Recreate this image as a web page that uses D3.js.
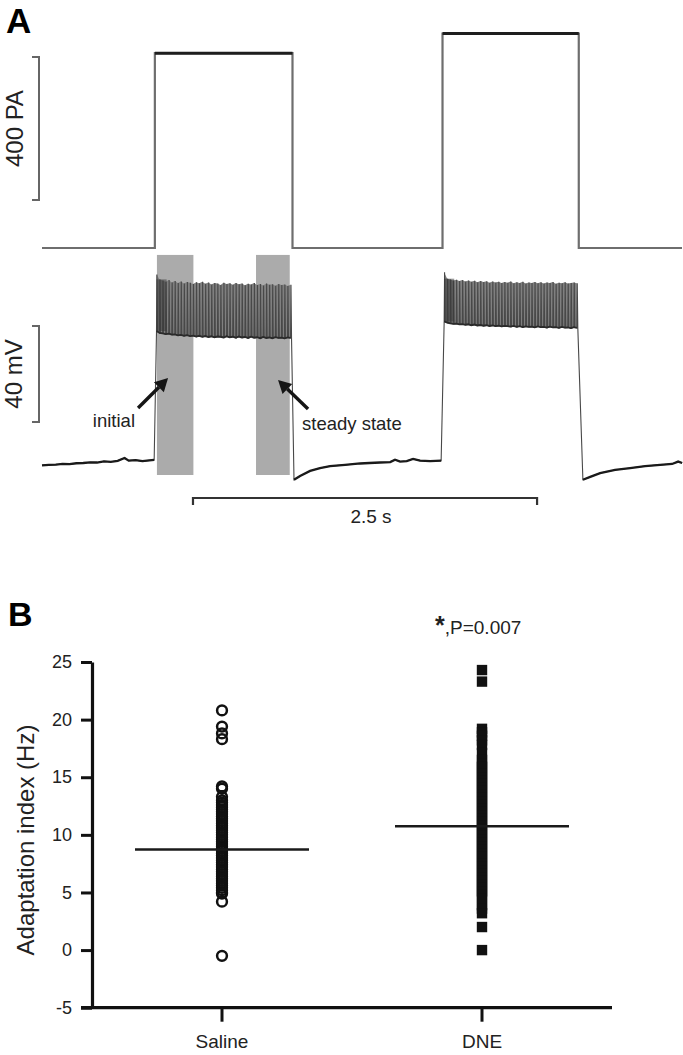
<!DOCTYPE html>
<html><head><meta charset="utf-8">
<script src="https://cdn.jsdelivr.net/npm/d3@7"></script>
<style>
html,body{margin:0;padding:0;background:#fff;}
svg{display:block;font-family:"Liberation Sans",Arial,Helvetica,sans-serif;}
</style>
</head><body>
<script>
// ---------- Panel A data ----------
const stepOn = [0.82, 2.91];          // s
const stepOff = [1.82, 3.90];         // s
const stepAmp = [545, 600];           // pA
const recordEnd = 4.65;               // s
const restBefore1 = [[0,-66.0],[0.05,-65.8],[0.1,-65.7],[0.15,-65.4],[0.2,-65.5],[0.25,-65.1],[0.3,-65.0],[0.35,-64.7],[0.4,-64.8],[0.45,-64.3],[0.5,-64.5],[0.55,-64.1],[0.6,-62.9],[0.63,-64.0],[0.68,-63.8],[0.73,-64.2],[0.78,-63.9],[0.815,-63.7]];
const recovery1 = [[1.831,-72.0],[1.875,-70.4],[1.948,-68.3],[2.020,-67.1],[2.093,-66.3],[2.202,-65.8],[2.311,-65.2],[2.380,-65.0],[2.456,-64.8],[2.530,-64.6],[2.565,-63.6],[2.602,-64.4],[2.650,-64.2],[2.696,-63.3],[2.747,-64.0],[2.820,-64.2],[2.900,-64.0]];
const recovery2 = [[3.930,-72.0],[3.983,-70.8],[4.055,-69.2],[4.164,-67.9],[4.273,-67.1],[4.382,-66.3],[4.491,-65.8],[4.578,-65.4],[4.622,-64.4],[4.651,-65.0]];
const burst1Peak = [13.5,11.5,11.0,10.5,11.2,10.2,10.8,10.0,10.6,9.8,10.4,10.1,9.6,10.3,9.9,10.5,9.7,10.2,9.4,10.0,9.8,9.2,10.1,9.6,9.9,9.3,10.0,9.5,9.8,9.1,9.7,9.4,10.0,9.2,9.6,9.0,9.8,9.3,9.5,8.9,9.6,9.2,9.4,8.8,9.3];
const burst1Trough = [-10.0,-10.8,-11.0,-11.3,-11.1,-11.5,-11.4,-11.8,-11.6,-12.0,-11.7,-12.1,-11.9,-12.3,-12.0,-12.4,-12.1,-12.5,-12.2,-12.6,-12.3,-12.4,-12.7,-12.2,-12.6,-12.4,-12.8,-12.3,-12.7,-12.5,-12.9,-12.4,-12.8,-12.6,-13.0,-12.5,-12.9,-12.7,-13.0,-12.6,-12.9,-12.8,-13.1,-12.7,-12.9];
const burst2Peak = [14.5,11.8,11.5,11.0,11.4,10.8,11.2,10.6,11.0,10.5,10.9,10.3,10.8,10.4,10.7,10.1,10.6,10.2,10.5,10.0,10.4,10.1,10.6,9.9,10.3,10.0,10.5,9.8,10.2,10.0,10.4,9.9,10.3,9.8,10.2,10.0,10.4,9.7,10.1,9.9,10.3,9.8,10.0,10.2,9.9];
const burst2Trough = [-6.0,-6.5,-6.8,-7.0,-6.9,-7.2,-7.1,-7.4,-7.2,-7.6,-7.3,-7.7,-7.5,-7.8,-7.6,-7.9,-7.7,-8.0,-7.8,-8.1,-7.9,-8.0,-8.2,-7.9,-8.3,-8.0,-8.4,-8.1,-8.3,-8.2,-8.5,-8.1,-8.4,-8.3,-8.6,-8.2,-8.5,-8.4,-8.7,-8.3,-8.6,-8.5,-8.8,-8.4,-8.7];
const windowInitial = [0.835, 1.10];  // s
const windowSteady = [1.555, 1.80];   // s
const windowRangeV = [-70, 21.7];     // mV
const barCurrent = [134, 534];        // pA (400 pA)
const barVoltage = [-47.9, -7.9];     // mV (40 mV)
const barTime = [1.097, 3.597];       // s (2.5 s)

// ---------- Panel B data ----------
const groups = ["Saline", "DNE"];
const salineValues = [20.8,19.4,18.8,18.3,14.2,14.0,13.3,13.0,12.8,12.6,12.4,12.2,12.0,11.8,11.6,11.4,11.2,11.0,10.8,10.6,10.4,10.2,10.0,9.8,9.6,9.4,9.2,9.0,8.8,8.6,8.4,8.2,8.0,7.8,7.6,7.4,7.2,7.0,6.8,6.6,6.4,6.2,6.0,5.8,5.6,5.4,5.2,5.0,4.9,4.2,-0.5];
const dneValues = [24.3,23.3,19.2,18.9,18.6,18.2,17.8,17.1,16.5,16.2,15.9,15.6,15.3,15.0,14.7,14.4,14.1,13.8,13.5,13.2,12.9,12.6,12.3,12.0,11.7,11.4,11.1,10.8,10.5,10.2,9.9,9.6,9.3,9.0,8.7,8.4,8.1,7.8,7.5,7.2,6.9,6.6,6.3,6.0,5.7,5.4,5.1,4.8,4.5,3.9,3.6,3.2,2.0,0.0];
const groupMeans = [8.73, 10.75];
const yTicks = [-5, 0, 5, 10, 15, 20, 25];

// ---------- Drawing ----------
const W = 683, H = 1055;
const svg = d3.select("body").append("svg").attr("width", W).attr("height", H);

const xT = d3.scaleLinear().domain([0, recordEnd]).range([42, 682]);
const yI = d3.scaleLinear().domain([0, 400]).range([248, 105]);
const yV = d3.scaleLinear().domain([-65, -25]).range([463, 367]);
const line = d3.line().x(d => xT(d[0]));

svg.append("text").attr("x", 6).attr("y", 33).attr("font-size", 35).attr("font-weight", "bold").text("A");

// current trace
const cur = [[0,0]];
stepOn.forEach((on, i) => {
  cur.push([on, 0], [on, stepAmp[i]], [stepOff[i], stepAmp[i]], [stepOff[i], 0]);
});
cur.push([recordEnd, 0]);
svg.append("path").attr("d", line.y(d => yI(d[1]))(cur))
  .attr("fill", "none").attr("stroke", "#6e6e6e").attr("stroke-width", 2.2);
stepOn.forEach((on, i) => {
  svg.append("path").attr("d", line.y(d => yI(d[1]))([[on, stepAmp[i]], [stepOff[i], stepAmp[i]]]))
    .attr("fill", "none").attr("stroke", "#1e1e1e").attr("stroke-width", 3);
});

// scale bars
function vBar(x, y0, y1) {
  svg.append("path").attr("d", `M${x-7},${y0}H${x}V${y1}H${x-7}`)
    .attr("fill", "none").attr("stroke", "#666").attr("stroke-width", 2);
}
vBar(39, yI(barCurrent[0]), yI(barCurrent[1]));
svg.append("text").attr("transform", `translate(23,${(yI(barCurrent[0])+yI(barCurrent[1]))/2}) rotate(-90)`)
  .attr("text-anchor", "middle").attr("font-size", 24).attr("fill", "#222").text("400 PA");
vBar(39, yV(barVoltage[0]), yV(barVoltage[1]));
svg.append("text").attr("transform", `translate(22,${(yV(barVoltage[0])+yV(barVoltage[1]))/2}) rotate(-90)`)
  .attr("text-anchor", "middle").attr("font-size", 24).attr("fill", "#222").text("40 mV");

// analysis windows
[windowInitial, windowSteady].forEach(w => {
  svg.append("rect").attr("x", xT(w[0])).attr("width", xT(w[1]) - xT(w[0]))
    .attr("y", yV(windowRangeV[1])).attr("height", yV(windowRangeV[0]) - yV(windowRangeV[1]))
    .attr("fill", "#ababab");
});

// voltage trace
function burstSpikes(on, off, peaks, troughs) {
  const n = Math.min(peaks.length, troughs.length);
  const pos = d3.scalePoint().domain(d3.range(n)).range([on + 0.012, off - 0.014]);
  return d3.range(n).map(i => ({t: pos(i), p: peaks[i], tr: troughs[i]}));
}
const bursts = [
  burstSpikes(stepOn[0], stepOff[0], burst1Peak, burst1Trough),
  burstSpikes(stepOn[1], stepOff[1], burst2Peak, burst2Trough)
];
const area = d3.area().x(d => xT(d.t)).y0(d => yV(d.tr)).y1(d => yV(d.p));
bursts.forEach(b => {
  svg.append("path").attr("d", area(b)).attr("fill", "#808080");
});
const full = [];
restBefore1.forEach(d => full.push(d));
bursts[0].forEach(s => { full.push([s.t, s.tr], [s.t + 0.003, s.p], [s.t + 0.007, s.tr]); });
recovery1.forEach(d => full.push(d));
bursts[1].forEach(s => { full.push([s.t, s.tr], [s.t + 0.003, s.p], [s.t + 0.007, s.tr]); });
recovery2.forEach(d => full.push(d));
svg.append("path").attr("d", line.y(d => yV(d[1]))(full))
  .attr("fill", "none").attr("stroke", "#484848").attr("stroke-width", 1.1);
bursts.forEach(b => {
  svg.append("path").attr("d", d3.line().x(d => xT(d.t)).y(d => yV(d.tr))(b))
    .attr("fill", "none").attr("stroke", "#2a2a2a").attr("stroke-width", 1.8);
  svg.append("rect").attr("x", xT(b[0].t)).attr("width", xT(b[3].t) - xT(b[0].t) + 1)
    .attr("y", yV(b[1].p)).attr("height", yV(b[0].tr) - yV(b[1].p))
    .attr("fill", "#333").attr("opacity", 0.5);
});
[restBefore1, recovery1, recovery2].forEach(seg => {
  svg.append("path").attr("d", line.y(d => yV(d[1]))(seg))
    .attr("fill", "none").attr("stroke", "#1a1a1a").attr("stroke-width", 2.3);
});

// arrows and labels
function arrow(t0, v0, t1, v1) {
  const x0 = xT(t0), y0 = yV(v0), x1 = xT(t1), y1 = yV(v1);
  const a = Math.atan2(y1 - y0, x1 - x0), L = 13, Wd = 7;
  const bx = x1 - L * Math.cos(a), by = y1 - L * Math.sin(a);
  svg.append("line").attr("x1", x0).attr("y1", y0).attr("x2", bx).attr("y2", by)
    .attr("stroke", "#151515").attr("stroke-width", 3.4);
  svg.append("path").attr("d", `M${x1},${y1}L${bx + Wd*Math.sin(a)},${by - Wd*Math.cos(a)}L${bx - Wd*Math.sin(a)},${by + Wd*Math.cos(a)}Z`)
    .attr("fill", "#151515");
}
arrow(0.698, -42.1, 0.916, -29.6);
arrow(1.933, -42.5, 1.715, -30.4);
svg.append("text").attr("x", 135).attr("y", 427).attr("text-anchor", "end")
  .attr("font-size", 18.5).attr("fill", "#222").text("initial");
svg.append("text").attr("x", 302).attr("y", 430)
  .attr("font-size", 18.5).attr("fill", "#222").text("steady state");

// time scale bar
const tb0 = xT(barTime[0]), tb1 = xT(barTime[1]);
svg.append("path").attr("d", `M${tb0},505V498H${tb1}V505`).attr("fill", "none")
  .attr("stroke", "#333").attr("stroke-width", 2.2);
svg.append("text").attr("x", 371).attr("y", 523).attr("text-anchor", "middle")
  .attr("font-size", 19).attr("fill", "#222").text("2.5 s");

// ---------- Panel B ----------
svg.append("text").attr("x", 8).attr("y", 626).attr("font-size", 34).attr("font-weight", "bold").text("B");

const yB = d3.scaleLinear().domain([-5, 25]).range([1007.7, 662]);
const xB = d3.scalePoint().domain(groups).range([222, 482]);
const axisX = 92;

const gy = svg.append("g").attr("transform", `translate(${axisX},0)`)
  .call(d3.axisLeft(yB).tickValues(yTicks).tickFormat(d => String(d)).tickSize(11).tickPadding(9).tickSizeOuter(0));
gy.selectAll("path.domain").attr("stroke", "#111").attr("stroke-width", 3.2);
gy.selectAll(".tick line").attr("stroke", "#111").attr("stroke-width", 3);
gy.selectAll(".tick text").attr("font-size", 18).attr("fill", "#222")
  .attr("font-family", "'Liberation Sans',Arial,sans-serif");

svg.append("line").attr("x1", axisX - 11).attr("x2", 612).attr("y1", yB(-5)).attr("y2", yB(-5))
  .attr("stroke", "#111").attr("stroke-width", 3.2);
groups.forEach(g => {
  svg.append("line").attr("x1", xB(g)).attr("x2", xB(g)).attr("y1", yB(-5)).attr("y2", yB(-5) + 14)
    .attr("stroke", "#111").attr("stroke-width", 3);
  svg.append("text").attr("x", xB(g)).attr("y", 1048).attr("text-anchor", "middle")
    .attr("font-size", 19).attr("fill", "#222").text(g);
});

svg.append("text").attr("transform", `translate(34,840) rotate(-90)`).attr("text-anchor", "middle")
  .attr("font-size", 24).attr("fill", "#222").text("Adaptation index (Hz)");

svg.append("g").selectAll("circle").data(salineValues).join("circle")
  .attr("cx", xB("Saline")).attr("cy", d => yB(d)).attr("r", 4.9)
  .attr("fill", "none").attr("stroke", "#111").attr("stroke-width", 2.5);
svg.append("g").selectAll("rect").data(dneValues).join("rect")
  .attr("x", xB("DNE") - 5.2).attr("y", d => yB(d) - 5.2).attr("width", 10.4).attr("height", 10.4)
  .attr("fill", "#111");

groupMeans.forEach((m, i) => {
  const cx = xB(groups[i]);
  svg.append("line").attr("x1", cx - 87).attr("x2", cx + 87).attr("y1", yB(m)).attr("y2", yB(m))
    .attr("stroke", "#1a1a1a").attr("stroke-width", 2.6);
});

const sig = svg.append("text").attr("x", 435).attr("y", 634).attr("fill", "#222").attr("font-size", 19);
sig.append("tspan").attr("font-weight", "bold").attr("font-size", 25).text("*");
sig.append("tspan").text(",P=0.007");
</script>
</body></html>
